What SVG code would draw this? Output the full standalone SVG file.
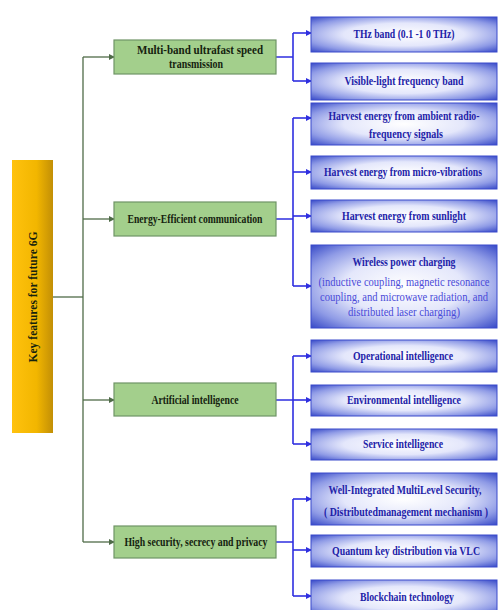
<svg xmlns="http://www.w3.org/2000/svg" width="501" height="610" viewBox="0 0 501 610">
<defs>
<radialGradient id="bg" cx="50%" cy="50%" r="72%">
<stop offset="0" stop-color="#ffffff"/>
<stop offset="0.45" stop-color="#e4e7fb"/>
<stop offset="0.75" stop-color="#8f9be6"/>
<stop offset="1" stop-color="#2f42c4"/>
</radialGradient>
<linearGradient id="yg" x1="0" y1="0" x2="1" y2="0">
<stop offset="0" stop-color="#ffc20e"/>
<stop offset="0.6" stop-color="#f2b600"/>
<stop offset="1" stop-color="#c28f06"/>
</linearGradient>
<marker id="ag" markerWidth="6" markerHeight="6" refX="5" refY="3" orient="auto" markerUnits="userSpaceOnUse">
<path d="M0,0 L6,3 L0,6 z" fill="#4f6b48"/>
</marker>
<marker id="ab" markerWidth="6" markerHeight="6" refX="5" refY="3" orient="auto" markerUnits="userSpaceOnUse">
<path d="M0,0 L6,3 L0,6 z" fill="#2f2fe0"/>
</marker>
</defs>
<style>
.g{fill:#a3cf8c;stroke:#6f9466;stroke-width:1.2}
.b{fill:url(#bg);stroke:#3a4bcc;stroke-width:1}
.gt{font-family:"Liberation Serif",serif;font-weight:bold;font-size:12px;fill:#15230f;text-anchor:middle}
.bt{font-family:"Liberation Serif",serif;font-weight:bold;font-size:12px;fill:#2222a8;text-anchor:middle}
.st{font-family:"Liberation Serif",serif;font-size:12px;fill:#4a4ad8;text-anchor:middle}
.gl{fill:none;stroke:#4f6b48;stroke-width:1.3}
.bl{fill:none;stroke:#2f2fe0;stroke-width:1.6}
</style>
<rect width="501" height="610" fill="#ffffff"/>

<g id="connectors">
<path class="gl" d="M53,297 H83"/>
<path class="gl" d="M83,57 V542"/>
<path class="gl" marker-end="url(#ag)" d="M83,57 H114"/>
<path class="gl" marker-end="url(#ag)" d="M83,219 H114"/>
<path class="gl" marker-end="url(#ag)" d="M83,400 H114"/>
<path class="gl" marker-end="url(#ag)" d="M83,542 H114"/>

<path class="bl" d="M276,57 H293 M293,33 V81"/>
<path class="bl" marker-end="url(#ab)" d="M293,33 H311"/>
<path class="bl" marker-end="url(#ab)" d="M293,81 H311"/>

<path class="bl" d="M276,219 H293 M293,118 V286"/>
<path class="bl" marker-end="url(#ab)" d="M293,118 H311"/>
<path class="bl" marker-end="url(#ab)" d="M293,172 H311"/>
<path class="bl" marker-end="url(#ab)" d="M293,216 H311"/>
<path class="bl" marker-end="url(#ab)" d="M293,286 H311"/>

<path class="bl" d="M276,400 H293 M293,356 V444"/>
<path class="bl" marker-end="url(#ab)" d="M293,356 H311"/>
<path class="bl" marker-end="url(#ab)" d="M293,400 H311"/>
<path class="bl" marker-end="url(#ab)" d="M293,444 H311"/>

<path class="bl" d="M276,542 H293 M293,499 V596"/>
<path class="bl" marker-end="url(#ab)" d="M293,499 H311"/>
<path class="bl" marker-end="url(#ab)" d="M293,550 H311"/>
<path class="bl" marker-end="url(#ab)" d="M293,596 H311"/>
</g>

<g id="root">
<rect x="12" y="160" width="41" height="273" fill="url(#yg)"/>
<text class="gt" transform="translate(37,297) rotate(-90)" textLength="131" lengthAdjust="spacingAndGlyphs">Key features for future 6G</text>
</g>

<g id="multiband">
<rect class="g" x="114" y="40" width="162" height="34"/>
<text class="gt" x="200" y="54" textLength="126" lengthAdjust="spacingAndGlyphs">Multi-band ultrafast speed</text>
<text class="gt" x="196" y="68" textLength="54" lengthAdjust="spacingAndGlyphs">transmission</text>
</g>
<g id="energy">
<rect class="g" x="114" y="202" width="162" height="34"/>
<text class="gt" x="195" y="223" textLength="135" lengthAdjust="spacingAndGlyphs">Energy-Efficient communication</text>
</g>
<g id="ai">
<rect class="g" x="114" y="383" width="162" height="33"/>
<text class="gt" x="195" y="404" textLength="87" lengthAdjust="spacingAndGlyphs">Artificial intelligence</text>
</g>
<g id="security">
<rect class="g" x="114" y="526" width="162" height="32"/>
<text class="gt" x="196" y="546" textLength="143" lengthAdjust="spacingAndGlyphs">High security, secrecy and privacy</text>
</g>

<g id="thz">
<rect class="b" x="311" y="17" width="186" height="35"/>
<text class="bt" x="404" y="38" textLength="101" lengthAdjust="spacingAndGlyphs">THz band (0.1 -1 0 THz)</text>
</g>
<g id="visible">
<rect class="b" x="311" y="63" width="186" height="37"/>
<text class="bt" x="404" y="85" textLength="119" lengthAdjust="spacingAndGlyphs">Visible-light frequency band</text>
</g>
<g id="radio">
<rect class="b" x="311" y="103" width="186" height="42"/>
<text class="bt" x="404" y="120" textLength="151" lengthAdjust="spacingAndGlyphs">Harvest energy from ambient radio-</text>
<text class="bt" x="406" y="138" textLength="74" lengthAdjust="spacingAndGlyphs">frequency signals</text>
</g>
<g id="vibrations">
<rect class="b" x="311" y="156" width="186" height="33"/>
<text class="bt" x="403" y="176" textLength="158" lengthAdjust="spacingAndGlyphs">Harvest energy from micro-vibrations</text>
</g>
<g id="sunlight">
<rect class="b" x="311" y="200" width="186" height="32"/>
<text class="bt" x="404" y="220" textLength="124" lengthAdjust="spacingAndGlyphs">Harvest energy from sunlight</text>
</g>
<g id="wireless">
<rect class="b" x="311" y="245" width="186" height="83"/>
<text class="bt" x="404" y="266" textLength="103" lengthAdjust="spacingAndGlyphs">Wireless power charging</text>
<text class="st" x="404" y="286" textLength="171" lengthAdjust="spacingAndGlyphs">(inductive coupling, magnetic resonance</text>
<text class="st" x="404" y="301" textLength="168" lengthAdjust="spacingAndGlyphs">coupling, and microwave radiation, and</text>
<text class="st" x="404" y="316" textLength="112" lengthAdjust="spacingAndGlyphs">distributed laser charging)</text>
</g>
<g id="operational">
<rect class="b" x="311" y="340" width="186" height="32"/>
<text class="bt" x="403" y="360" textLength="100" lengthAdjust="spacingAndGlyphs">Operational intelligence</text>
</g>
<g id="environmental">
<rect class="b" x="311" y="385" width="186" height="31"/>
<text class="bt" x="404" y="404" textLength="114" lengthAdjust="spacingAndGlyphs">Environmental intelligence</text>
</g>
<g id="service">
<rect class="b" x="311" y="429" width="186" height="31"/>
<text class="bt" x="403" y="448" textLength="80" lengthAdjust="spacingAndGlyphs">Service intelligence</text>
</g>
<g id="multilevel">
<rect class="b" x="311" y="473" width="186" height="52"/>
<text class="bt" x="405" y="494" textLength="153" lengthAdjust="spacingAndGlyphs">Well-Integrated MultiLevel Security,</text>
<text class="bt" x="406" y="516" textLength="164" lengthAdjust="spacingAndGlyphs">( Distributedmanagement mechanism )</text>
</g>
<g id="quantum">
<rect class="b" x="311" y="535" width="186" height="32"/>
<text class="bt" x="406" y="555" textLength="148" lengthAdjust="spacingAndGlyphs">Quantum key distribution via VLC</text>
</g>
<g id="blockchain">
<rect class="b" x="311" y="580" width="186" height="36"/>
<text class="bt" x="407" y="601" textLength="94" lengthAdjust="spacingAndGlyphs">Blockchain technology</text>
</g>
</svg>
